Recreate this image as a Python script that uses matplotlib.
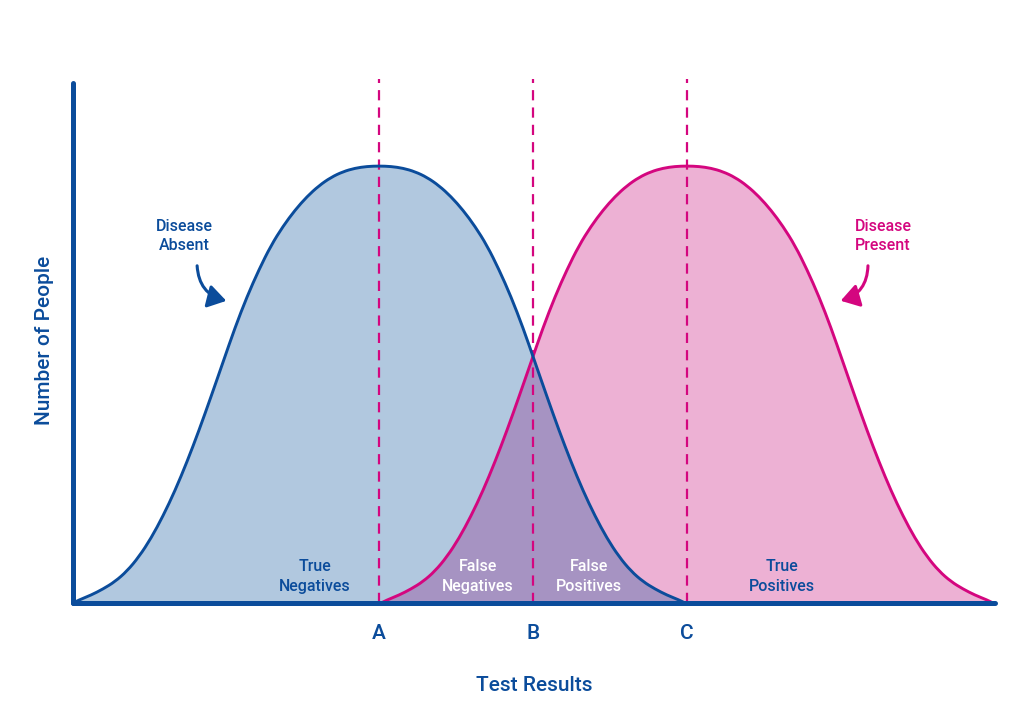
import matplotlib
matplotlib.use("Agg")
import matplotlib.pyplot as plt
from matplotlib.patches import FancyArrowPatch, PathPatch
from matplotlib.path import Path

# half-profile of each bell
# (distance from the peak, height as a fraction of the peak)
offset = [0, 12, 24, 36, 48, 60, 72, 84, 96, 108, 120, 132, 144, 156, 168,
          180, 192, 204, 216, 228, 240, 252, 264, 276, 288, 300, 306]
height = [1.000, 0.999, 0.995, 0.987, 0.974, 0.955, 0.930, 0.899, 0.862,
          0.818, 0.763, 0.701, 0.630, 0.551, 0.472, 0.395, 0.323, 0.257,
          0.199, 0.148, 0.106, 0.073, 0.049, 0.032, 0.018, 0.007, 0.000]

# cut-off positions on the test-result axis
cut_names = ["A", "B", "C"]
cut_pos = [306, 460, 614]
x_end = 922
y_top = 1.19

absent_peak = cut_pos[0]
present_peak = cut_pos[2]

BLUE = "#0b4c9b"
BLUE_FILL = "#b1c8df"
PINK = "#d4067f"
PINK_FILL = "#edb1d4"
PURPLE = "#a693c2"

plt.rcParams["font.family"] = ["Roboto", "DejaVu Sans"]


def bell(peak):
    xs = [peak - d for d in offset[::-1]] + [peak + d for d in offset[1:]]
    ys = height[::-1] + height[1:]
    return xs, ys


def smooth_path(xs, ys, closed=False):
    # quadratic bezier through the midpoints of the read points
    verts = [(xs[0], ys[0])]
    codes = [Path.MOVETO]
    for i in range(1, len(xs) - 1):
        verts += [(xs[i], ys[i]),
                  ((xs[i] + xs[i + 1]) / 2, (ys[i] + ys[i + 1]) / 2)]
        codes += [Path.CURVE3, Path.CURVE3]
    verts.append((xs[-1], ys[-1]))
    codes.append(Path.LINETO)
    if closed:
        verts += [(xs[0], ys[0]), (xs[0], ys[0])]
        codes += [Path.LINETO, Path.CLOSEPOLY]
    return Path(verts, codes)


bx, by = bell(absent_peak)
px, py = bell(present_peak)

fig = plt.figure(figsize=(10.24, 7.28), dpi=100)
ax = fig.add_axes([73 / 1024, 125 / 728, 922 / 1024, 437 * 1.2 / 728])
ax.set_xlim(0, x_end)
ax.set_ylim(0, 1.2)
for s in ax.spines.values():
    s.set_visible(False)

# fills
blue_patch = ax.add_patch(PathPatch(smooth_path(bx, by, True),
                                    fc=BLUE_FILL, lw=0, zorder=1))
ax.add_patch(PathPatch(smooth_path(px, py, True), fc=PINK_FILL, lw=0,
                       zorder=2))
overlap = ax.add_patch(PathPatch(smooth_path(px, py, True), fc=PURPLE,
                                 lw=0, zorder=3))
overlap.set_clip_path(blue_patch)

# cut-off lines
for xp in cut_pos:
    ax.plot([xp, xp], [0, 1.2], color=PINK, lw=1.6, dashes=(4.6, 3.2),
            zorder=4, clip_on=False)

# curves
ax.add_patch(PathPatch(smooth_path(px, py), fill=False, ec=PINK, lw=2.1,
                       zorder=5))
ax.add_patch(PathPatch(smooth_path(bx, by), fill=False, ec=BLUE, lw=2.1,
                       zorder=6))

# axes drawn as thick lines
ax.plot([0, 0], [0, y_top], color=BLUE, lw=3.6, solid_capstyle="round",
        clip_on=False, zorder=7)
ax.plot([0, x_end], [0, 0], color=BLUE, lw=3.6, solid_capstyle="round",
        clip_on=False, zorder=7)

ax.set_xticks(cut_pos, cut_names)
ax.set_yticks([])
ax.tick_params(axis="x", length=0, pad=15, labelsize=15, labelcolor=BLUE)
for t in ax.get_xticklabels():
    t.set_fontweight("medium")

ax.set_xlabel("Test Results", fontsize=15, color=BLUE, fontweight="medium",
              labelpad=24)
ax.set_ylabel("Number of People", fontsize=15, color=BLUE,
              fontweight="medium", labelpad=14)

# annotations
txt = dict(ha="center", va="center", fontsize=11.5, fontweight="medium",
           linespacing=1.4)
ax.text(111, 0.840, "Disease\nAbsent", color=BLUE, **txt)
ax.text(810, 0.840, "Disease\nPresent", color=PINK, **txt)
ax.text(242, 0.060, "True\nNegatives", color=BLUE, **txt)
ax.text(405, 0.060, "False\nNegatives", color="white", **txt)
ax.text(516, 0.060, "False\nPositives", color="white", **txt)
ax.text(709, 0.060, "True\nPositives", color=BLUE, **txt)

ax.add_patch(FancyArrowPatch((124, 0.778), (156, 0.690),
                             connectionstyle="arc3,rad=0.4",
                             arrowstyle="-|>,head_length=11,head_width=7",
                             color=BLUE, lw=2.2, zorder=8))
ax.add_patch(FancyArrowPatch((795, 0.778), (765, 0.690),
                             connectionstyle="arc3,rad=-0.4",
                             arrowstyle="-|>,head_length=11,head_width=7",
                             color=PINK, lw=2.2, zorder=8))

fig.savefig("out.png", dpi=100, facecolor="white")
